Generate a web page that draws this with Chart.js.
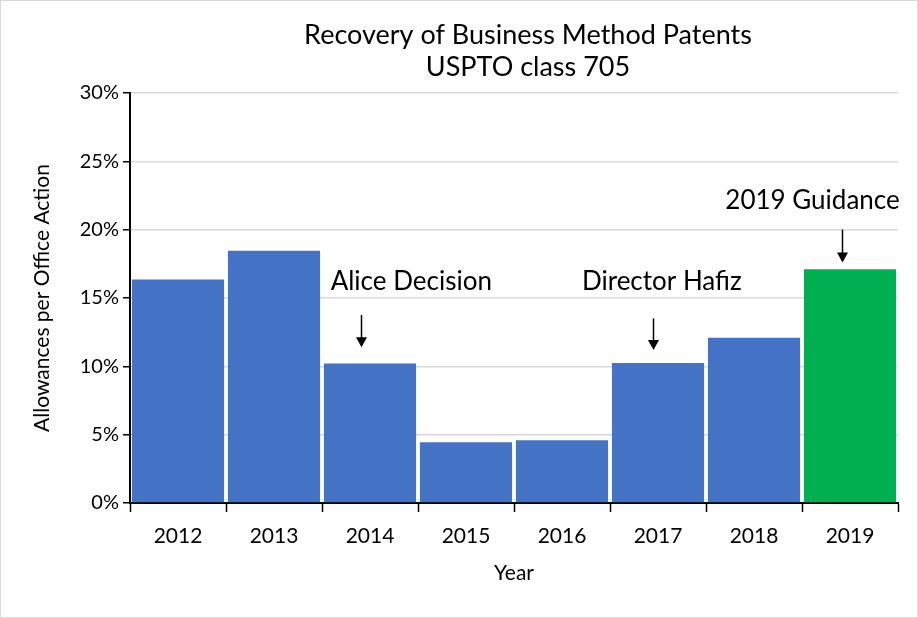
<!DOCTYPE html>
<html>
<head>
<meta charset="utf-8">
<script src="https://cdn.jsdelivr.net/npm/chart.js@4/dist/chart.umd.min.js"></script>
<style>
  html, body { margin: 0; padding: 0; background: #fff; }
  #wrap { width: 918px; height: 618px; position: relative; }
</style>
</head>
<body>
<div id="wrap"><canvas id="chart-bar_patents"></canvas></div>
<script>
// ------------- DATOS
const years = ['2012', '2013', '2014', '2015', '2016', '2017', '2018', '2019'];
const allowanceRate = [16.35, 18.45, 10.2, 4.45, 4.6, 10.25, 12.1, 17.1];
const barColors = ['#4472C4', '#4472C4', '#4472C4', '#4472C4', '#4472C4', '#4472C4', '#4472C4', '#00B050'];
const yTicks = [0, 5, 10, 15, 20, 25, 30];
const titleLines = ['Recovery of Business Method Patents', 'USPTO class 705'];

// notas sobre el gráfico (año al que apuntan)
const noteLabels = ['Alice Decision', 'Director Hafiz', '2019 Guidance'];
const noteYears = ['2014', '2017', '2019'];

// posiciones de las notas en unidades de los ejes (x en fracción de categoría, y en %)
const noteLayout = [
  { textDx: 0.43, textY: 16.2, arrowDx: -0.09, arrowFrom: 13.75, arrowTo: 11.4 },
  { textDx: 0.04, textY: 16.2, arrowDx: -0.05, arrowFrom: 13.5, arrowTo: 11.2 },
  { textDx: -0.39, textY: 22.1, arrowDx: -0.08, arrowFrom: 20.0, arrowTo: 17.6 }
];

const FONT = "Lato, 'Noto Sans', sans-serif";

// ---------- PLUGIN: TÍTULO, NOTAS CON FLECHAS + MARCO
const notesPlugin = {
  id: 'notes',
  afterDatasetsDraw(chart) {
    const ctx = chart.ctx;
    const x = chart.scales.x;
    const y = chart.scales.y;
    const area = chart.chartArea;
    const step = x.getPixelForValue(1) - x.getPixelForValue(0);
    ctx.save();
    // título centrado sobre el área del gráfico
    ctx.fillStyle = '#000';
    ctx.font = '27px ' + FONT;
    ctx.textAlign = 'center';
    ctx.textBaseline = 'middle';
    const midX = (area.left + area.right) / 2 + 14;
    ctx.fillText(titleLines[0], midX, area.top - 58);
    ctx.fillText(titleLines[1], midX, area.top - 26);

    noteLabels.forEach(function (label, i) {
      const lay = noteLayout[i];
      const cx = x.getPixelForValue(years.indexOf(noteYears[i]));
      // texto
      ctx.fillStyle = '#000';
      ctx.font = '26px ' + FONT;
      ctx.textAlign = 'center';
      ctx.textBaseline = 'middle';
      ctx.fillText(label, cx + lay.textDx * step, y.getPixelForValue(lay.textY));
      // flecha
      const ax = Math.round(cx + lay.arrowDx * step) + 0.5;
      const y1 = y.getPixelForValue(lay.arrowFrom);
      const y2 = y.getPixelForValue(lay.arrowTo);
      ctx.strokeStyle = '#000';
      ctx.lineWidth = 1.5;
      ctx.beginPath();
      ctx.moveTo(ax, y1);
      ctx.lineTo(ax, y2 - 9);
      ctx.stroke();
      ctx.beginPath();
      ctx.moveTo(ax - 5.5, y2 - 10);
      ctx.lineTo(ax + 5.5, y2 - 10);
      ctx.lineTo(ax, y2);
      ctx.closePath();
      ctx.fill();
    });
    // marco gris
    ctx.strokeStyle = '#d9d9d9';
    ctx.lineWidth = 1;
    ctx.strokeRect(0.5, 0.5, chart.width - 1, chart.height - 1);
    ctx.restore();
  }
};

let myChartPatents;
const ctx = document.getElementById('chart-bar_patents').getContext('2d');
myChartPatents = new Chart(ctx, {
  type: 'bar',
  data: {
    labels: years,
    datasets: [{
      label: 'Allowances per Office Action',
      data: allowanceRate,
      backgroundColor: barColors,
      borderWidth: 0,
      barPercentage: 0.96,
      categoryPercentage: 1.0
    }]
  },
  options: {
    responsive: true,
    maintainAspectRatio: false,
    animation: false,
    layout: { padding: { left: 0, right: 20, top: 93, bottom: 32 } },
    plugins: {
      legend: { display: false },
      tooltip: { enabled: false },
      title: { display: false }
    },
    scales: {
      x: {
        offset: true,
        grid: {
          display: true,
          offset: true,
          drawOnChartArea: false,
          drawTicks: true,
          tickLength: 9,
          tickColor: '#000',
          tickWidth: 1.5
        },
        border: { display: true, color: '#000', width: 2 },
        ticks: {
          color: '#000',
          font: { family: FONT, size: 21 },
          padding: 12
        },
        title: {
          display: true,
          text: 'Year',
          color: '#000',
          font: { family: FONT, size: 21 },
          padding: { top: 6, bottom: 0 }
        },
        afterFit: function (scale) { scale.height = 83; }
      },
      y: {
        min: 0,
        max: 30,
        afterBuildTicks: function (scale) {
          scale.ticks = yTicks.map(function (v) { return { value: v }; });
        },
        grid: {
          color: '#d9d9d9',
          lineWidth: 1.5,
          drawTicks: true,
          tickLength: 7,
          tickColor: '#000',
          tickWidth: 1.5
        },
        border: { display: true, color: '#000', width: 2 },
        ticks: {
          color: '#000',
          font: { family: FONT, size: 20 },
          padding: 4,
          callback: function (v) { return v + '%'; }
        },
        title: {
          display: true,
          text: 'Allowances per Office Action',
          color: '#000',
          font: { family: FONT, size: 21 },
          padding: { top: 30, bottom: 4 }
        },
        afterFit: function (scale) { scale.width = 130; }
      }
    }
  },
  plugins: [notesPlugin]
});
</script>
</body>
</html>
